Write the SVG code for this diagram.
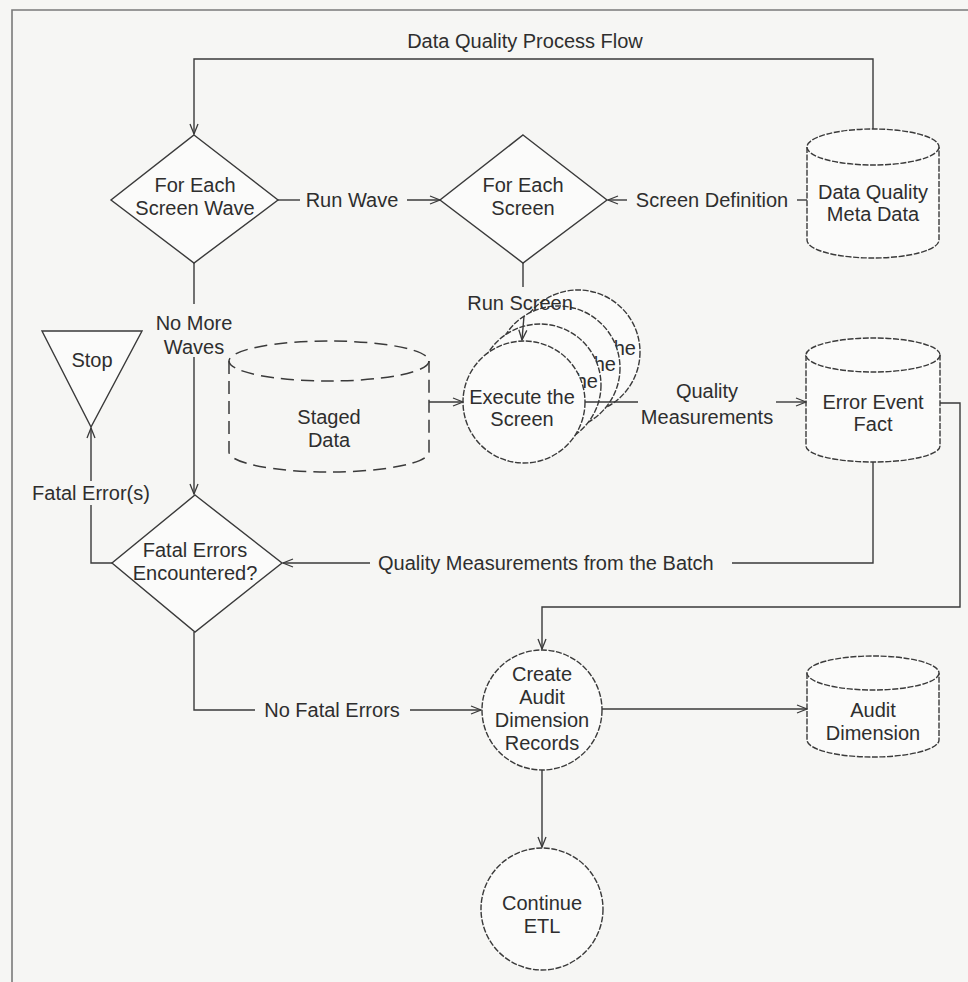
<svg xmlns="http://www.w3.org/2000/svg" width="968" height="982" viewBox="0 0 968 982">
  <defs>
    <marker id="arr" viewBox="0 0 12 10" refX="11" refY="5" markerWidth="12" markerHeight="10" markerUnits="userSpaceOnUse" orient="auto">
      <path d="M1,1 L11,5 L1,9" fill="none" stroke="#3a3a3a" stroke-width="1.3"/>
    </marker>
  </defs>
  <style>
    text { font-family: "Liberation Sans", Arial, sans-serif; font-size: 20px; fill: #2e2e2e; }
    .c { text-anchor: middle; }
    .e { text-anchor: end; }
    .ln { fill: none; stroke: #3a3a3a; stroke-width: 1.4; }
    .shape { fill: #fbfbfa; stroke: #3a3a3a; stroke-width: 1.4; }
    .dot { fill: #fbfbfa; stroke: #3a3a3a; stroke-width: 1.4; stroke-dasharray: 6 1.6; }
    .dash { fill: none; stroke: #3a3a3a; stroke-width: 1.5; stroke-dasharray: 13 7; }
    .frame { fill: none; stroke: #7a7a7a; stroke-width: 1.6; }
  </style>

  <!-- page -->
  <rect x="0" y="0" width="968" height="982" fill="#f6f6f4"/>
  <path class="frame" d="M12,982 V10 H968"/>
  <text id="title" class="c" x="525" y="48">Data Quality Process Flow</text>

  <!-- decisions -->
  <g id="for-each-wave">
    <polygon class="shape" points="194,135 278,200 194,263 111,200"/>
    <text x="195" y="192" class="c">For Each</text>
    <text x="195" y="215" class="c">Screen Wave</text>
  </g>
  <g id="for-each-screen">
    <polygon class="shape" points="523,135 607,200 523,263 440,200"/>
    <text x="523" y="192" class="c">For Each</text>
    <text x="523" y="215" class="c">Screen</text>
  </g>
  <g id="fatal-errors">
    <polygon class="shape" points="195,495 282,563 195,632 112,563"/>
    <text x="195" y="557" class="c">Fatal Errors</text>
    <text x="195" y="580" class="c">Encountered?</text>
  </g>

  <!-- stop -->
  <g id="stop">
    <polygon class="shape" points="42,331 142,331 91,427"/>
    <text x="92" y="367" class="c">Stop</text>
  </g>

  <!-- data stores -->
  <g id="meta-data">
    <path class="dot" d="M807,147 V240 A66,18 0 0 0 939,240 V147"/>
    <ellipse class="dot" cx="873" cy="147" rx="66" ry="18"/>
    <text x="873" y="199" class="c">Data Quality</text>
    <text x="873" y="221" class="c">Meta Data</text>
  </g>
  <g id="staged-data">
    <path class="dash" d="M229,361 V452 A100,20 0 0 0 429,452 V361"/>
    <ellipse class="dash" cx="329" cy="361" rx="100" ry="20"/>
    <text x="329" y="424" class="c">Staged</text>
    <text x="329" y="447" class="c">Data</text>
  </g>
  <g id="error-event-fact">
    <path class="dot" d="M806,355 V446 A67,16 0 0 0 940,446 V355"/>
    <ellipse class="dot" cx="873" cy="355" rx="67" ry="17"/>
    <text x="873" y="409" class="c">Error Event</text>
    <text x="873" y="431" class="c">Fact</text>
  </g>
  <g id="audit-dimension">
    <path class="dot" d="M807,673 V740 A66,17 0 0 0 939,740 V673"/>
    <ellipse class="dot" cx="873" cy="673" rx="66" ry="17"/>
    <text x="873" y="717" class="c">Audit</text>
    <text x="873" y="740" class="c">Dimension</text>
  </g>

  <!-- processes: stacked copies behind the front screen circle -->
  <g id="execute-screen">
    <g id="execute-screen-stack-3">
      <circle class="dot" cx="578" cy="352" r="62"/>
      <text x="636" y="355" class="e">he</text>
    </g>
    <g id="execute-screen-stack-2">
      <circle class="dot" cx="558" cy="368" r="62"/>
      <text x="616" y="371" class="e">he</text>
    </g>
    <g id="execute-screen-stack-1">
      <circle class="dot" cx="540" cy="385" r="61"/>
      <text x="598" y="388" class="e">he</text>
    </g>
    <circle class="dot" cx="524" cy="402" r="61"/>
    <text x="522" y="404" class="c">Execute the</text>
    <text x="522" y="426" class="c">Screen</text>
  </g>
  <g id="create-audit">
    <circle class="dot" cx="542" cy="710" r="60"/>
    <text x="542" y="681" class="c">Create</text>
    <text x="542" y="704" class="c">Audit</text>
    <text x="542" y="727" class="c">Dimension</text>
    <text x="542" y="750" class="c">Records</text>
  </g>
  <g id="continue-etl">
    <circle class="dot" cx="542" cy="909" r="61"/>
    <text x="542" y="910" class="c">Continue</text>
    <text x="542" y="933" class="c">ETL</text>
  </g>

  <!-- connectors -->
  <g id="connectors">
    <path class="ln" d="M873,129 V59 H194 V134" marker-end="url(#arr)"/>
    <path class="ln" d="M278,200 H300"/>
    <path class="ln" d="M407,200 H440" marker-end="url(#arr)"/>
    <text x="352" y="207" class="c">Run Wave</text>
    <path class="ln" d="M807,200 H797"/>
    <path class="ln" d="M627,200 H608" marker-end="url(#arr)"/>
    <text x="712" y="207" class="c">Screen Definition</text>
    <path class="ln" d="M523,263 V287"/>
    <path class="ln" d="M524,316 L522,340" marker-end="url(#arr)"/>
    <text x="520" y="310" class="c">Run Screen</text>
    <path class="ln" d="M194,263 V304"/>
    <path class="ln" d="M194,357 V494" marker-end="url(#arr)"/>
    <text x="194" y="330" class="c">No More</text>
    <text x="194" y="354" class="c">Waves</text>
    <path class="ln" d="M429,402 H463" marker-end="url(#arr)"/>
    <path class="ln" d="M585,402 H638"/>
    <path class="ln" d="M776,402 H806" marker-end="url(#arr)"/>
    <text x="707" y="398" class="c">Quality</text>
    <text x="707" y="424" class="c">Measurements</text>
    <path class="ln" d="M873,462 V563 H732"/>
    <path class="ln" d="M370,563 H283" marker-end="url(#arr)"/>
    <text x="378" y="570">Quality Measurements from the Batch</text>
    <path class="ln" d="M112,563 H91 V505"/>
    <path class="ln" d="M91,481 V428" marker-end="url(#arr)"/>
    <text x="91" y="500" class="c">Fatal Error(s)</text>
    <path class="ln" d="M194,632 V710 H255"/>
    <path class="ln" d="M410,710 H481" marker-end="url(#arr)"/>
    <text x="332" y="717" class="c">No Fatal Errors</text>
    <path class="ln" d="M940,403 H960 V607 H542 V649" marker-end="url(#arr)"/>
    <path class="ln" d="M602,709 H807" marker-end="url(#arr)"/>
    <path class="ln" d="M542,770 V847" marker-end="url(#arr)"/>
  </g>
</svg>
